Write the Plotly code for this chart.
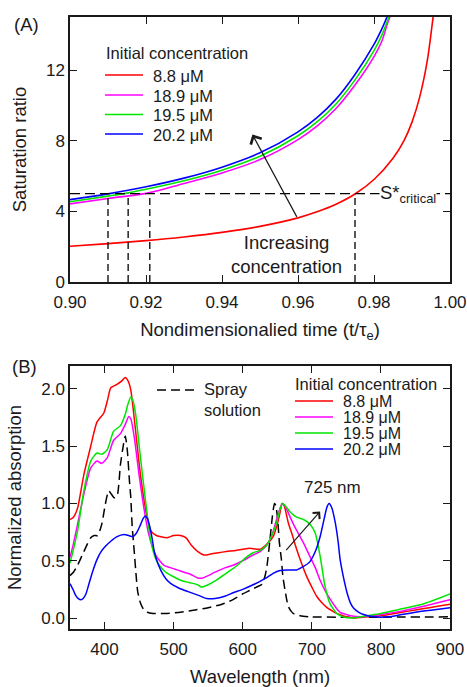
import plotly.graph_objects as go

# ---------------- Panel A data ----------------
t_blue = [0.900, 0.910, 0.920, 0.930, 0.940, 0.950, 0.960, 0.965, 0.970, 0.975, 0.980, 0.982, 0.9835, 0.985]
S_blue = [4.66, 4.99, 5.39, 5.88, 6.50, 7.31, 8.50, 9.30, 10.35, 11.75, 13.45, 14.30, 15.05, 16.0]
t_green = [0.900, 0.910, 0.915, 0.920, 0.930, 0.940, 0.950, 0.960, 0.965, 0.970, 0.975, 0.980, 0.982, 0.984, 0.9855]
S_green = [4.54, 4.86, 5.03, 5.25, 5.73, 6.33, 7.12, 8.28, 9.06, 10.08, 11.44, 13.10, 13.95, 15.05, 16.0]
t_mag = [0.900, 0.910, 0.921, 0.930, 0.940, 0.950, 0.960, 0.965, 0.970, 0.975, 0.980, 0.982, 0.9835, 0.9847, 0.986]
S_mag = [4.42, 4.73, 5.06, 5.58, 6.17, 6.93, 8.06, 8.82, 9.82, 11.15, 12.76, 13.60, 14.60, 15.30, 16.0]
t_red = [0.900, 0.910, 0.920, 0.930, 0.940, 0.950, 0.960, 0.965, 0.970, 0.975, 0.980, 0.985, 0.988, 0.990, 0.992, 0.994, 0.9955, 0.9962]
S_red = [2.02, 2.17, 2.34, 2.55, 2.81, 3.15, 3.63, 3.97, 4.40, 4.98, 5.80, 7.00, 8.05, 9.05, 10.45, 12.50, 14.90, 16.0]

S_critical = 5.0
t_cross = [0.910, 0.9153, 0.921, 0.975]

conc_labels = ["8.8 μM", "18.9 μM", "19.5 μM", "20.2 μM"]
legend_title = "Initial concentration"
spray_label = "Spray<br>solution"

# ---------------- Panel B data ----------------
wl_red = [350, 355, 361, 370, 380, 389, 399, 405, 409, 418, 425, 430, 434, 438, 445, 452, 460, 467, 475, 481, 490,
          500, 510, 518, 525, 535, 544, 555, 565, 576, 590, 600, 610, 625, 634, 644, 650, 654, 657, 660, 666, 672,
          678, 685, 692, 700, 707, 715, 722, 730, 736, 745, 751, 760, 780, 800, 820, 840, 860, 880, 900]
ab_red = [0.86, 0.88, 0.96, 1.25, 1.50, 1.71, 1.79, 1.92, 2.01, 2.04, 2.07, 2.10, 2.07, 1.99, 1.63, 1.25, 0.93, 0.76,
          0.72, 0.71, 0.70, 0.72, 0.72, 0.70, 0.64, 0.58, 0.55, 0.56, 0.57, 0.58, 0.59, 0.60, 0.61, 0.60, 0.64, 0.71,
          0.82, 0.92, 1.00, 0.98, 0.83, 0.72, 0.60, 0.48, 0.37, 0.27, 0.19, 0.13, 0.09, 0.06, 0.04, 0.02, 0.01, 0.00,
          0.01, 0.02, 0.04, 0.06, 0.08, 0.10, 0.12]

wl_mag = [350, 355, 361, 370, 380, 389, 396, 404, 413, 423, 430, 435, 438, 443, 450, 457, 464, 474, 486, 495, 505,
          515, 525, 535, 542, 550, 560, 575, 586, 600, 615, 625, 634, 642, 650, 657, 662, 668, 675, 683, 690, 697,
          705, 712, 720, 727, 735, 741, 750, 756, 770, 800, 830, 860, 900]
ab_mag = [0.53, 0.65, 0.82, 1.08, 1.31, 1.37, 1.35, 1.40, 1.55, 1.61, 1.69, 1.76, 1.74, 1.58, 1.25, 0.96, 0.73, 0.55,
          0.46, 0.44, 0.42, 0.40, 0.38, 0.35, 0.35, 0.37, 0.40, 0.44, 0.46, 0.50, 0.55, 0.58, 0.63, 0.72, 0.88, 1.00,
          0.97, 0.89, 0.80, 0.71, 0.63, 0.54, 0.44, 0.33, 0.23, 0.16, 0.09, 0.05, 0.03, 0.02, 0.01, 0.03, 0.06, 0.10,
          0.16]

wl_green = [350, 355, 361, 370, 380, 389, 396, 404, 413, 423, 430, 434, 438, 441, 445, 452, 460, 467, 476, 485, 491,
            500, 510, 522, 535, 540, 550, 562, 576, 590, 605, 615, 625, 634, 642, 649, 654, 658, 663, 668, 678, 688,
            697, 705, 712, 719, 726, 736, 745, 760, 780, 800, 830, 860, 900]
ab_green = [0.48, 0.60, 0.76, 1.11, 1.37, 1.44, 1.43, 1.47, 1.63, 1.68, 1.78, 1.87, 1.93, 1.90, 1.78, 1.40, 0.99, 0.67,
            0.49, 0.42, 0.39, 0.36, 0.33, 0.31, 0.29, 0.27, 0.29, 0.33, 0.39, 0.45, 0.53, 0.57, 0.59, 0.63, 0.72, 0.83,
            0.95, 1.00, 0.97, 0.93, 0.88, 0.86, 0.82, 0.74, 0.54, 0.28, 0.13, 0.04, 0.01, 0.00, 0.02, 0.04, 0.08, 0.12,
            0.21]

wl_blue = [350, 355, 358, 362, 366, 369, 373, 378, 383, 389, 395, 402, 409, 418, 428, 435, 441, 446, 451, 456, 459,
           462, 465, 469, 472, 477, 482, 489, 496, 508, 521, 535, 548, 560, 574, 586, 600, 615, 625, 634, 644, 654,
           665, 678, 688, 697, 705, 712, 718, 722, 725, 729, 734, 738, 741, 746, 751, 756, 760, 768, 775, 790, 810,
           830, 850, 875, 900]
ab_blue = [0.30, 0.24, 0.20, 0.17, 0.16, 0.17, 0.21, 0.31, 0.41, 0.51, 0.58, 0.63, 0.67, 0.71, 0.73, 0.72, 0.71, 0.74,
           0.80, 0.87, 0.89, 0.87, 0.81, 0.69, 0.58, 0.48, 0.41, 0.34, 0.30, 0.26, 0.23, 0.20, 0.17, 0.17, 0.19, 0.22,
           0.25, 0.29, 0.32, 0.35, 0.39, 0.415, 0.42, 0.42, 0.45, 0.49, 0.58, 0.71, 0.87, 0.97, 1.00, 0.96, 0.83, 0.67,
           0.51, 0.35, 0.22, 0.13, 0.09, 0.05, 0.03, 0.01, 0.01, 0.03, 0.05, 0.07, 0.09]

wl_spray = [350, 355, 361, 370, 380, 385, 390, 396, 401, 406, 410, 414, 418, 423, 427, 430, 433, 436, 438, 440, 443,
            446, 448, 452, 457, 462, 470, 490, 510, 531, 550, 570, 586, 600, 610, 620, 627, 632, 635, 639, 643, 646,
            648, 651, 653, 656, 658, 661, 664, 666, 670, 673, 683, 700, 900]
ab_spray = [0.37, 0.40, 0.46, 0.58, 0.70, 0.72, 0.72, 0.82, 0.99, 1.11, 1.08, 1.05, 1.06, 1.34, 1.50, 1.59, 1.46, 1.20,
            1.05, 0.80, 0.58, 0.35, 0.23, 0.13, 0.07, 0.05, 0.04, 0.04, 0.05, 0.07, 0.09, 0.12, 0.16, 0.21, 0.24, 0.27,
            0.29, 0.36, 0.45, 0.66, 0.89, 1.00, 0.98, 0.83, 0.66, 0.51, 0.37, 0.25, 0.15, 0.10, 0.06, 0.04, 0.02, 0.01,
            0.01]

colors = ["#ff0000", "#ff00ff", "#00e600", "#0000ff"]
FONT = "Liberation Sans, Arial, sans-serif"
INK = "#1a1a1a"

W, H = 467, 687
ML, MR, MT, MB = 70, 17, 17, 58
PW, PH = W - ML - MR, H - MT - MB


def px(x):  # pixel -> paper x
    return (x - ML) / PW


def py(y):  # pixel -> paper y
    return (H - MB - y) / PH


fig = go.Figure()

# Panel A curves
for tt, ss, c, name in [(t_red, S_red, colors[0], conc_labels[0]),
                        (t_mag, S_mag, colors[1], conc_labels[1]),
                        (t_green, S_green, colors[2], conc_labels[2]),
                        (t_blue, S_blue, colors[3], conc_labels[3])]:
    fig.add_trace(go.Scatter(x=tt, y=ss, mode="lines", name=name, showlegend=False,
                             line=dict(color=c, width=1.6, shape="spline"), xaxis="x", yaxis="y"))

# critical line + verticals
fig.add_trace(go.Scatter(x=[0.90, 1.00], y=[S_critical, S_critical], mode="lines", showlegend=False,
                         line=dict(color="black", width=1.3, dash="10px,5px"), xaxis="x", yaxis="y"))
vx, vy = [], []
for tc in t_cross:
    vx += [tc, tc, None]
    vy += [0, S_critical, None]
fig.add_trace(go.Scatter(x=vx, y=vy, mode="lines", showlegend=False,
                         line=dict(color="black", width=1.3, dash="7px,4px"), xaxis="x", yaxis="y"))

# Panel B curves
fig.add_trace(go.Scatter(x=wl_spray, y=ab_spray, mode="lines", name="Spray solution", showlegend=False,
                         line=dict(color="black", width=1.5, dash="9px,5px", shape="spline", smoothing=0.6),
                         xaxis="x2", yaxis="y2"))
for ww, aa, c, name in [(wl_red, ab_red, colors[0], conc_labels[0]),
                        (wl_mag, ab_mag, colors[1], conc_labels[1]),
                        (wl_green, ab_green, colors[2], conc_labels[2]),
                        (wl_blue, ab_blue, colors[3], conc_labels[3])]:
    fig.add_trace(go.Scatter(x=ww, y=aa, mode="lines", name=name, showlegend=False,
                             line=dict(color=c, width=1.5, shape="spline", smoothing=0.6),
                             xaxis="x2", yaxis="y2"))

axis_common = dict(showline=True, linecolor=INK, linewidth=1.5, mirror="ticks", ticks="inside",
                   ticklen=7, tickwidth=1.3, tickcolor=INK, showgrid=False, zeroline=False, automargin=False,
                   tickfont=dict(size=17, color=INK, family=FONT))

fig.update_layout(
    width=W, height=H,
    margin=dict(l=ML, r=MR, t=MT, b=MB, autoexpand=False),
    paper_bgcolor="white", plot_bgcolor="white",
    font=dict(family=FONT, color=INK, size=17),
    showlegend=False,
    xaxis=dict(domain=[0, 1], anchor="y", range=[0.90, 1.00],
               tickvals=[0.90, 0.92, 0.94, 0.96, 0.98, 1.00], tickformat=".2f", ticklabelstandoff=4,
               title=dict(text="Nondimensionalied time (t/τ<sub>e</sub>)", font=dict(size=18.5), standoff=12),
               **axis_common),
    yaxis=dict(domain=[0.567, 1], anchor="x", range=[0, 15.0], tickvals=[0, 4, 8, 12], ticklabelstandoff=0,
               title=dict(text="Saturation ratio", font=dict(size=18.5), standoff=14), **axis_common),
    xaxis2=dict(domain=[0, 1], anchor="y2", range=[350, 900], tickvals=[400, 500, 600, 700, 800, 900],
                ticklabelstandoff=4,
                title=dict(text="Wavelength (nm)", font=dict(size=18.5), standoff=20), **axis_common),
    yaxis2=dict(domain=[0, 0.4297], anchor="x2", range=[-0.096, 2.2], tickvals=[0, 0.5, 1.0, 1.5, 2.0],
                tickformat=".1f", ticklabelstandoff=0,
                title=dict(text="Normalized absorption", font=dict(size=18.5), standoff=15), **axis_common),
)

annotations = [
    dict(text="(A)", x=px(12), y=py(24.5), xref="paper", yref="paper", xanchor="left", yanchor="middle",
         showarrow=False, font=dict(size=18.5)),
    dict(text="(B)", x=px(10), y=py(366.5), xref="paper", yref="paper", xanchor="left", yanchor="middle",
         showarrow=False, font=dict(size=18.5)),
    dict(text="S*<sub>critical</sub>", x=0.9813, y=S_critical, xref="x", yref="y", xanchor="left",
         yanchor="middle", showarrow=False, font=dict(size=18.5), bgcolor="white", borderpad=0),
    dict(text="Increasing<br>concentration", x=0.957, y=1.53, xref="x", yref="y", xanchor="center",
         yanchor="middle", showarrow=False, font=dict(size=18.5)),
    dict(text="", x=0.948, y=8.35, ax=0.9599, ay=3.6, xref="x", yref="y", axref="x", ayref="y",
         showarrow=True, arrowhead=4, arrowsize=2, arrowwidth=1.2, arrowcolor=INK),
    dict(text="725 nm", x=730, y=1.14, xref="x2", yref="y2", xanchor="center", yanchor="middle",
         showarrow=False, font=dict(size=17)),
    dict(text="", x=712, y=0.93, ax=661, ay=0.58, xref="x2", yref="y2", axref="x2", ayref="y2",
         showarrow=True, arrowhead=4, arrowsize=1.5, arrowwidth=1.2, arrowcolor=INK),
]
shapes = []


def add_legend(title_xy, key_x0, key_x1, text_x, rows_y, size_title, size_item):
    annotations.append(dict(text=legend_title, x=px(title_xy[0]), y=py(title_xy[1]), xref="paper",
                            yref="paper", xanchor="left", yanchor="middle", showarrow=False,
                            font=dict(size=size_title)))
    for lab, col, yy in zip(conc_labels, colors, rows_y):
        shapes.append(dict(type="line", xref="paper", yref="paper", x0=px(key_x0), x1=px(key_x1),
                           y0=py(yy), y1=py(yy), line=dict(color=col, width=1.6)))
        annotations.append(dict(text=lab, x=px(text_x), y=py(yy + 0.5), xref="paper", yref="paper",
                                xanchor="left", yanchor="middle", showarrow=False, font=dict(size=size_item)))


# legend of panel A
add_legend((104, 53), 105, 143, 151, [75, 95, 114.5, 134], 16.5, 16.5)
# legend of panel B
add_legend((293, 384), 295, 333, 341, [401, 417, 433, 449], 16.5, 16)
# spray solution key
shapes.append(dict(type="line", xref="paper", yref="paper", x0=px(157), x1=px(195), y0=py(390), y1=py(390),
                   line=dict(color="black", width=1.5, dash="9px,5px")))
annotations.append(dict(text=spray_label, x=px(202), y=py(399.5), xref="paper", yref="paper", xanchor="left",
                        yanchor="middle", align="left", showarrow=False, font=dict(size=16.5)))

fig.update_layout(annotations=annotations, shapes=shapes)

fig.write_html("out.html", config={"displayModeBar": False},
               post_script="document.body.style.margin='0px';")
